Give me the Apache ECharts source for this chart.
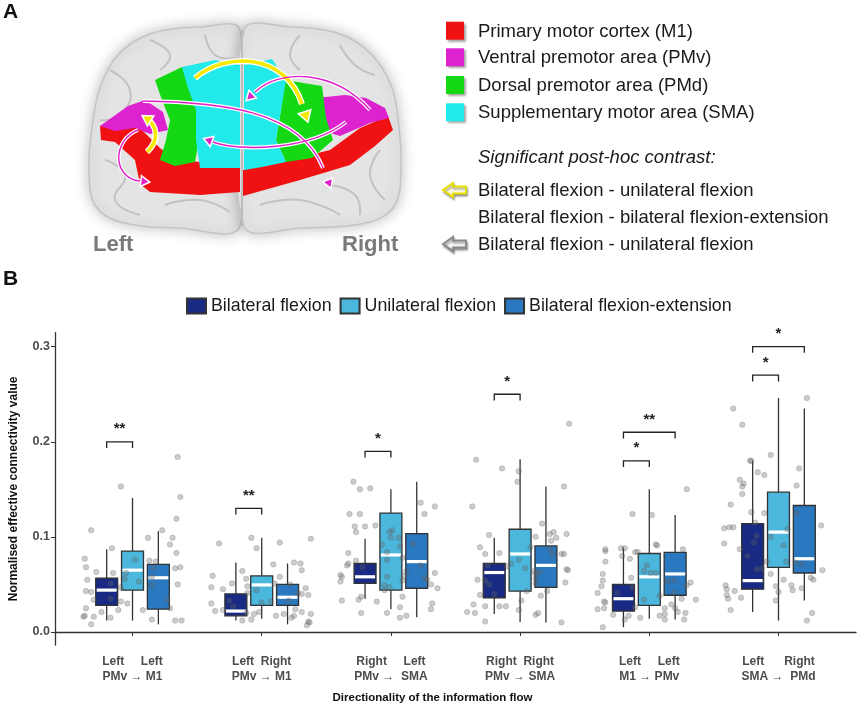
<!DOCTYPE html>
<html>
<head>
<meta charset="utf-8">
<script src="https://cdn.jsdelivr.net/npm/echarts@6.0.0/dist/echarts.min.js"></script>
<style>
html,body{margin:0;padding:0;background:#fff}
#main{width:858px;height:706px}
</style>
</head>
<body>
<div id="main"></div>
<script>
// ---- data ----
var categories = [1, 2, 3, 4, 5, 6];
var tickLabels = [
	'Left     Left\nPMv → M1',
	'Left  Right\nPMv → M1',
	'Right     Left\nPMv →  SMA',
	'Right  Right\nPMv → SMA',
	'Left     Left\nM1 → PMv',
	'Left      Right\nSMA →  PMd'
];
var conditions = ['Bilateral flexion', 'Unilateral flexion', 'Bilateral flexion-extension'];
var condColors = ['#182a84', '#4bb7dc', '#2a78bf'];
var boxOffsets = [-0.2, 0, 0.2];

// [min, q1, median, q3, max] per category
var bilateralFlexion = [
	[0.012, 0.028, 0.044, 0.0565, 0.087],
	[0.012, 0.017, 0.022, 0.040, 0.073],
	[0.035, 0.051, 0.058, 0.072, 0.098],
	[0.019, 0.036, 0.0625, 0.072, 0.099],
	[0.005, 0.022, 0.035, 0.050, 0.089],
	[0.021, 0.045, 0.054, 0.114, 0.180]
];
var unilateralFlexion = [
	[0.012, 0.044, 0.065, 0.085, 0.141],
	[0.014, 0.028, 0.0495, 0.059, 0.099],
	[0.024, 0.044, 0.081, 0.125, 0.150],
	[0.0105, 0.043, 0.082, 0.108, 0.1815],
	[0.014, 0.028, 0.058, 0.0825, 0.150],
	[0.012, 0.068, 0.105, 0.147, 0.246]
];
var bilateralFlexExt = [
	[0.008, 0.024, 0.057, 0.071, 0.106],
	[0.008, 0.028, 0.0365, 0.050, 0.072],
	[0.0155, 0.046, 0.074, 0.1035, 0.158],
	[0.010, 0.047, 0.070, 0.0905, 0.153],
	[0.013, 0.0386, 0.061, 0.0836, 0.123],
	[0.033, 0.062, 0.077, 0.133, 0.235]
];

// jittered subject values: [offset from category centre, value]
var points1 = [[-0.32,0.107],[-0.09,0.153],[0.35,0.184],[0.37,0.142],[0.34,0.119],[0.23,0.107],[0.12,0.099],[0.31,0.099],[0.29,0.092],[-0.16,0.088],[-0.37,0.077],[0.34,0.083],[0.02,0.076],[-0.36,0.068],[0.13,0.075],[0.18,0.074],[0.33,0.067],[0.37,0.068],[-0.28,0.063],[-0.05,0.062],[-0.15,0.062],[-0.35,0.055],[-0.06,0.056],[0.05,0.053],[0.15,0.049],[0.35,0.050],[-0.17,0.051],[-0.36,0.043],[-0.32,0.042],[-0.09,0.047],[-0.30,0.034],[-0.09,0.032],[-0.17,0.035],[0.27,0.034],[-0.36,0.025],[-0.11,0.023],[-0.04,0.030],[-0.24,0.021],[0.08,0.023],[0.29,0.025],[-0.37,0.017],[-0.38,0.016],[-0.30,0.016],[-0.17,0.015],[0.15,0.013],[0.33,0.012],[0.38,0.012],[-0.32,0.008],[0.15,0.058],[0.16,0.067]];
var points2 = [[-0.33,0.093],[-0.08,0.099],[-0.04,0.088],[0.14,0.094],[0.38,0.098],[0.09,0.071],[0.25,0.073],[0.30,0.072],[0.31,0.065],[-0.38,0.059],[-0.15,0.064],[-0.12,0.056],[0.14,0.058],[-0.39,0.047],[-0.30,0.045],[-0.23,0.051],[-0.11,0.048],[-0.04,0.044],[0.10,0.051],[0.22,0.050],[0.34,0.046],[0.28,0.041],[0.31,0.040],[0.36,0.039],[-0.11,0.041],[-0.25,0.033],[0.00,0.031],[-0.39,0.030],[-0.22,0.027],[-0.36,0.022],[-0.30,0.023],[-0.12,0.020],[-0.06,0.019],[-0.02,0.021],[0.17,0.019],[0.26,0.024],[0.31,0.021],[0.38,0.019],[0.11,0.017],[0.23,0.015],[0.25,0.017],[-0.15,0.012],[-0.08,0.013],[0.36,0.011],[0.37,0.010],[0.35,0.007],[0.07,0.032],[0.21,0.033]];
var points3 = [[-0.29,0.158],[-0.24,0.150],[-0.16,0.151],[0.23,0.136],[0.34,0.132],[-0.32,0.124],[-0.24,0.124],[0.26,0.124],[-0.28,0.111],[-0.20,0.111],[-0.12,0.112],[-0.27,0.105],[-0.01,0.105],[0.01,0.107],[0.00,0.099],[0.06,0.099],[-0.07,0.092],[0.07,0.090],[0.17,0.093],[-0.33,0.083],[-0.27,0.075],[-0.03,0.084],[-0.03,0.076],[0.09,0.078],[-0.33,0.072],[-0.34,0.070],[-0.22,0.068],[0.23,0.070],[0.12,0.064],[-0.39,0.060],[-0.38,0.058],[-0.03,0.058],[0.10,0.059],[0.34,0.062],[-0.39,0.053],[0.09,0.054],[0.26,0.057],[0.28,0.055],[0.31,0.050],[0.36,0.046],[-0.05,0.049],[-0.01,0.047],[-0.23,0.037],[-0.25,0.034],[0.09,0.037],[-0.38,0.033],[-0.11,0.032],[0.32,0.030],[0.07,0.026],[0.31,0.024],[-0.23,0.020],[-0.03,0.020],[0.07,0.015],[0.12,0.017],[-0.05,0.044]];
var points4 = [[0.38,0.219],[-0.34,0.181],[-0.14,0.172],[-0.01,0.169],[-0.02,0.158],[0.34,0.153],[-0.37,0.132],[0.17,0.114],[-0.24,0.102],[0.12,0.100],[0.23,0.103],[0.26,0.105],[0.28,0.099],[0.24,0.096],[0.36,0.103],[-0.31,0.089],[0.08,0.089],[0.23,0.087],[-0.27,0.082],[-0.16,0.083],[0.25,0.082],[0.32,0.082],[0.34,0.082],[-0.01,0.076],[-0.25,0.070],[-0.07,0.072],[-0.10,0.069],[0.04,0.067],[0.36,0.066],[0.37,0.065],[0.11,0.064],[0.15,0.063],[0.12,0.061],[-0.33,0.055],[-0.27,0.054],[-0.24,0.050],[0.12,0.056],[0.12,0.051],[0.35,0.052],[0.21,0.043],[0.05,0.043],[-0.31,0.039],[-0.20,0.040],[0.16,0.038],[0.01,0.033],[-0.36,0.029],[-0.27,0.027],[-0.16,0.027],[-0.11,0.027],[-0.41,0.021],[-0.35,0.020],[-0.01,0.023],[0.12,0.018],[0.14,0.020],[-0.27,0.011],[0.32,0.010]];
var points5 = [[0.29,0.150],[-0.13,0.124],[0.02,0.123],[-0.34,0.087],[-0.34,0.085],[-0.22,0.088],[-0.19,0.088],[-0.21,0.080],[-0.15,0.077],[-0.11,0.084],[-0.09,0.084],[0.05,0.092],[0.06,0.091],[0.26,0.087],[-0.34,0.074],[-0.02,0.070],[-0.04,0.064],[0.01,0.062],[0.05,0.062],[-0.36,0.061],[-0.14,0.057],[-0.36,0.054],[0.14,0.053],[0.19,0.054],[0.32,0.052],[0.29,0.049],[-0.37,0.048],[-0.13,0.047],[-0.40,0.041],[-0.25,0.041],[0.19,0.042],[0.08,0.038],[0.25,0.035],[0.36,0.034],[-0.35,0.032],[-0.34,0.031],[-0.04,0.034],[-0.11,0.026],[0.17,0.029],[-0.40,0.024],[-0.35,0.025],[0.12,0.025],[0.20,0.025],[0.22,0.021],[0.28,0.020],[-0.28,0.018],[-0.16,0.017],[0.08,0.017],[0.12,0.019],[-0.07,0.015],[0.12,0.013],[-0.19,0.013],[0.27,0.013],[-0.36,0.005]];
var points6 = [[0.22,0.246],[-0.35,0.235],[-0.28,0.218],[-0.06,0.186],[-0.22,0.180],[-0.21,0.180],[0.16,0.172],[-0.16,0.168],[-0.11,0.165],[-0.30,0.160],[-0.27,0.156],[-0.28,0.153],[0.14,0.154],[-0.28,0.145],[-0.37,0.134],[-0.21,0.126],[-0.11,0.125],[0.14,0.125],[-0.18,0.115],[0.33,0.112],[-0.42,0.109],[-0.38,0.110],[-0.35,0.110],[0.07,0.108],[-0.17,0.101],[-0.06,0.100],[-0.42,0.093],[-0.19,0.094],[0.04,0.091],[-0.30,0.087],[-0.24,0.080],[-0.09,0.074],[0.06,0.074],[0.13,0.073],[0.18,0.071],[-0.17,0.066],[-0.13,0.067],[0.34,0.065],[-0.06,0.061],[0.25,0.057],[0.27,0.055],[0.04,0.055],[-0.41,0.049],[0.10,0.049],[-0.40,0.045],[-0.02,0.048],[0.11,0.044],[0.18,0.046],[-0.34,0.043],[0.00,0.042],[-0.40,0.039],[-0.39,0.035],[-0.29,0.036],[-0.02,0.033],[-0.37,0.023],[0.26,0.020],[0.22,0.012]];

// significance brackets: [category, from box, to box, height, stars]
var brackets = [[1,0,1,0.200,'**'],[2,0,1,0.130,'**'],[3,0,1,0.190,'*'],[4,0,1,0.250,'*'],[5,0,1,0.180,'*'],[5,0,2,0.210,'**'],[6,0,1,0.270,'*'],[6,0,2,0.300,'*']];

var yTicks = [0, 0.1, 0.2, 0.3];

// panel A texts
var regionNames = ['Primary motor cortex (M1)', 'Ventral premotor area (PMv)', 'Dorsal premotor area (PMd)', 'Supplementary motor area (SMA)'];
var regionColors = ['#f01212', '#dd22d0', '#14d814', '#22eaea'];
var contrastTitle = 'Significant post-hoc contrast:';
var contrastNames = ['Bilateral flexion - unilateral flexion', 'Bilateral flexion - bilateral flexion-extension', 'Bilateral flexion - unilateral flexion'];

// ---- build ----
var myChart = echarts.init(document.getElementById('main'));
var BOX_W = 0.17;
var boxSets = [bilateralFlexion, unilateralFlexion, bilateralFlexExt];
var pointSets = [points1, points2, points3, points4, points5, points6];

function boxData(set, k) {
	return set.map(function (b, i) {
		return [categories[i] + boxOffsets[k]].concat(b);
	});
}

function renderBox(params, api) {
	var x = api.value(0);
	var lo = api.coord([x, api.value(1)]);
	var q1 = api.coord([x, api.value(2)]);
	var md = api.coord([x, api.value(3)]);
	var q3 = api.coord([x, api.value(4)]);
	var hi = api.coord([x, api.value(5)]);
	var half = api.size([BOX_W, 0])[0] / 2;
	var fill = api.visual('color');
	return {
		type : 'group',
		children : [ {
			type : 'line',
			shape : { x1 : hi[0], y1 : hi[1], x2 : q3[0], y2 : q3[1] },
			style : { stroke : '#333', lineWidth : 1.3 }
		}, {
			type : 'line',
			shape : { x1 : q1[0], y1 : q1[1], x2 : lo[0], y2 : lo[1] },
			style : { stroke : '#333', lineWidth : 1.3 }
		}, {
			type : 'rect',
			shape : { x : q3[0] - half, y : q3[1], width : half * 2, height : q1[1] - q3[1] },
			style : { fill : fill, stroke : '#333', lineWidth : 1.3 }
		}, {
			type : 'line',
			shape : { x1 : md[0] - half + 1, y1 : md[1], x2 : md[0] + half - 1, y2 : md[1] },
			style : { stroke : '#fff', lineWidth : 3.2 }
		} ]
	};
}

function renderBracket(params, api) {
	var x1 = api.value(0), x2 = api.value(1), y = api.value(2);
	var a = api.coord([x1, y]);
	var b = api.coord([x2, y]);
	var drop = api.coord([x1, y - 0.0065])[1];
	return {
		type : 'group',
		children : [ {
			type : 'polyline',
			shape : { points : [[a[0], drop], [a[0], a[1]], [b[0], b[1]], [b[0], drop]] },
			style : { stroke : '#222', lineWidth : 1.3, fill : null }
		}, {
			type : 'text',
			x : (a[0] + b[0]) / 2,
			y : a[1] - 5,
			style : {
				text : brackets[params.dataIndex][4],
				fill : '#222',
				font : 'bold 15px "Liberation Sans", Arial',
				align : 'center',
				verticalAlign : 'bottom'
			}
		} ]
	};
}

var series = [];
conditions.forEach(function (name, k) {
	series.push({
		name : name,
		type : 'custom',
		renderItem : renderBox,
		itemStyle : { color : condColors[k], borderColor : '#333', borderWidth : 1 },
		encode : { x : 0, y : [1, 2, 3, 4, 5] },
		data : boxData(boxSets[k], k),
		z : 2
	});
});

var scatterData = [];
pointSets.forEach(function (pts, i) {
	pts.forEach(function (p) {
		scatterData.push([categories[i] + p[0], p[1]]);
	});
});
series.push({
	name : 'subjects',
	type : 'scatter',
	symbolSize : 5.5,
	itemStyle : { color : 'rgba(105,105,105,0.42)', borderColor : 'rgba(80,80,80,0.45)', borderWidth : 0.6 },
	data : scatterData,
	z : 4,
	silent : true
});

series.push({
	name : 'brackets',
	type : 'custom',
	renderItem : renderBracket,
	encode : { x : [0, 1], y : 2 },
	data : brackets.map(function (b) {
		return [b[0] + boxOffsets[b[1]], b[0] + boxOffsets[b[2]], b[3]];
	}),
	z : 5,
	silent : true
});

// ---- panel A drawing ----
function poly(points, fill, stroke, z) {
	return { type : 'polygon', shape : { points : points }, style : { fill : fill, stroke : stroke || null, lineWidth : 1 }, z : z || 1 };
}
function curve(p, color, width, z) {
	return {
		type : 'bezierCurve',
		shape : { x1 : p[0], y1 : p[1], cpx1 : p[2], cpy1 : p[3], cpx2 : p[4], cpy2 : p[5], x2 : p[6], y2 : p[7] },
		style : { stroke : color, lineWidth : width, fill : null },
		z : z
	};
}
function head(ex, ey, cx, cy, s, fill, stroke, z) {
	var a = Math.atan2(ey - cy, ex - cx);
	var bx = ex - s * Math.cos(a), by = ey - s * Math.sin(a);
	var w = s * 0.6;
	return {
		type : 'polygon',
		shape : { points : [[ex, ey], [bx + w * Math.sin(a), by - w * Math.cos(a)], [bx - w * Math.sin(a), by + w * Math.cos(a)]] },
		style : { fill : fill, stroke : stroke, lineWidth : 1.5 },
		z : z
	};
}
function arrowPath(p, color, outline, width, size) {
	return [
		curve(p, outline, width + 2.5, 6),
		curve(p, color, width, 7),
		head(p[6] + (p[6] - p[4]) * 0.35, p[7] + (p[7] - p[5]) * 0.35, p[4], p[5], size, color, outline, 8)
	];
}

var graphics = [];
graphics.push({ type : 'text', x : 3, y : 2, style : { text : 'A', font : 'bold 21px "Liberation Sans", Arial', fill : '#111' } });
graphics.push({ type : 'text', x : 3, y : 269, style : { text : 'B', font : 'bold 21px "Liberation Sans", Arial', fill : '#111' } });

// hemispheres
graphics.push({
	type : 'polygon',
	shape : { points : [[240,30],[200,27],[150,34],[118,55],[100,88],[92,128],[89,170],[95,205],[120,222],[180,228],[240,226]], smooth : 0.35 },
	style : { fill : '#e4e4e4', stroke : '#c4c4c4', lineWidth : 1.5, shadowBlur : 14, shadowColor : 'rgba(0,0,0,0.25)' },
	z : 1
});
graphics.push({
	type : 'polygon',
	shape : { points : [[244,30],[290,27],[340,34],[372,55],[392,88],[399,128],[401,170],[395,205],[370,222],[300,228],[244,226]], smooth : 0.35 },
	style : { fill : '#e4e4e4', stroke : '#c4c4c4', lineWidth : 1.5, shadowBlur : 14, shadowColor : 'rgba(0,0,0,0.25)' },
	z : 1
});
// gyri texture
[[[110,70],[130,90],[120,115],[100,120]],[[150,40],[170,55],[160,70]],[[205,35],[215,55],[235,58]],[[105,160],[125,175],[115,200],[140,215]],[[165,205],[200,200],[230,212]],[[300,35],[290,55],[300,70]],[[340,45],[355,65],[375,75]],[[380,150],[370,175],[385,200]],[[260,205],[300,200],[340,215]],[[330,185],[355,195],[360,215]]].forEach(function (pts) {
	graphics.push({ type : 'polyline', shape : { points : pts, smooth : 0.5 }, style : { stroke : '#c2c2c2', lineWidth : 2, fill : null }, z : 2 });
});
graphics.push({ type : 'line', shape : { x1 : 242, y1 : 30, x2 : 242, y2 : 226 }, style : { stroke : '#bdbdbd', lineWidth : 2 }, z : 2 });

// coloured areas
graphics.push(poly([[100,126],[118,122],[140,128],[160,148],[175,160],[240,165],[240,192],[200,195],[150,192],[140,184],[135,160],[115,142],[101,140]], regionColors[0], null, 3));
graphics.push(poly([[243,170],[290,160],[330,150],[360,128],[388,116],[393,130],[375,146],[350,165],[300,180],[243,196]], regionColors[0], null, 3));
graphics.push(poly([[100,126],[128,106],[145,100],[163,112],[168,130],[150,134],[135,128],[115,131]], regionColors[1], null, 4));
graphics.push(poly([[316,98],[345,95],[366,98],[385,108],[389,118],[370,123],[340,136],[321,130]], regionColors[1], null, 4));
graphics.push(poly([[155,80],[182,67],[190,76],[195,100],[199,115],[199,140],[195,162],[175,166],[160,160],[166,140],[170,120],[162,100]], regionColors[2], null, 4));
graphics.push(poly([[285,80],[322,86],[326,118],[333,140],[312,158],[286,162],[276,140],[281,110]], regionColors[2], null, 4));
graphics.push(poly([[182,67],[215,60],[240,65],[240,168],[200,168],[196,140],[196,110],[187,85]], regionColors[3], null, 4));
graphics.push(poly([[244,65],[272,59],[286,80],[281,110],[276,140],[286,162],[262,167],[244,170]], regionColors[3], null, 4));

// connection arrows
graphics = graphics.concat(arrowPath([195,78,225,52,285,52,302,104], '#f5e900', '#fff', 3.5, 11));
graphics = graphics.concat(arrowPath([147,152,160,140,157,125,146,118], '#f5e900', '#fff', 3.5, 10));
graphics = graphics.concat(arrowPath([143,101,220,102,300,110,323,168], '#e020c8', '#fff', 1.4, 9));
graphics = graphics.concat(arrowPath([370,110,335,70,280,68,255,92], '#e020c8', '#fff', 1.4, 9));
graphics = graphics.concat(arrowPath([346,122,310,150,240,152,213,142], '#e020c8', '#fff', 1.4, 9));
graphics = graphics.concat(arrowPath([138,130,112,140,112,178,140,181], '#e020c8', '#fff', 1.4, 9));

graphics.push({ type : 'text', x : 93, y : 234, style : { text : 'Left', font : 'bold 22px "Liberation Sans", Arial', fill : '#7a7a7a' }, z : 9 });
graphics.push({ type : 'text', x : 342, y : 234, style : { text : 'Right', font : 'bold 22px "Liberation Sans", Arial', fill : '#7a7a7a' }, z : 9 });

// region legend
var legendFont = '18.5px "Liberation Sans", Arial';
regionNames.forEach(function (name, i) {
	var cy = [30.7, 57.3, 85, 112.3][i];
	graphics.push({
		type : 'rect',
		shape : { x : 446, y : cy - 9, width : 18, height : 18 },
		style : { fill : regionColors[i], shadowBlur : 2, shadowOffsetX : 2, shadowOffsetY : 2, shadowColor : 'rgba(0,0,0,0.35)' },
		z : 3
	});
	graphics.push({ type : 'text', x : 478, y : cy + 1, style : { text : name, font : legendFont, fill : '#1a1a1a', verticalAlign : 'middle' }, z : 3 });
});
graphics.push({ type : 'text', x : 478, y : 158, style : { text : contrastTitle, font : 'italic ' + legendFont, fill : '#1a1a1a', verticalAlign : 'middle' }, z : 3 });
contrastNames.forEach(function (name, i) {
	var cy = [190, 216.7, 244][i];
	graphics.push({ type : 'text', x : 478, y : cy + 1, style : { text : name, font : legendFont, fill : '#1a1a1a', verticalAlign : 'middle' }, z : 3 });
});
[[190, '#e8e000', '#fffbe0'], [244, '#8a8a8a', '#f6f6f6']].forEach(function (a) {
	var y = a[0];
	graphics.push({
		type : 'polygon',
		shape : { points : [[443,y],[453,y-7],[453,y-3.5],[466,y-3.5],[466,y+3.5],[453,y+3.5],[453,y+7]] },
		style : { fill : a[2], stroke : a[1], lineWidth : 2, shadowBlur : 2, shadowOffsetX : 1, shadowOffsetY : 2, shadowColor : 'rgba(0,0,0,0.35)' },
		z : 3
	});
});

var labelFont = '"Liberation Sans Narrow", "Liberation Sans", Arial';

option = {
	animation : false,
	backgroundColor : '#fff',
	legend : {
		top : 292,
		left : 181,
		itemWidth : 19,
		itemHeight : 15,
		itemGap : 8,
		textStyle : { fontSize : 17.8, color : '#1a1a1a', fontFamily : '"Liberation Sans", Arial' },
		data : conditions.map(function (n) { return { name : n, icon : 'rect' }; })
	},
	grid : { left : 53.5, right : 2, top : 332.7, bottom : 61 },
	xAxis : {
		type : 'value',
		min : 0.4,
		max : 6.6,
		name : 'Directionality of the information flow',
		nameLocation : 'middle',
		nameGap : 47,
		nameTextStyle : { fontFamily : labelFont, fontWeight : 'bold', fontSize : 11.5, color : '#111', padding : [0, 46, 0, 0] },
		axisLine : { lineStyle : { color : '#333', width : 1.3 } },
		axisTick : { customValues : categories, length : 4, lineStyle : { color : '#333' } },
		axisLabel : {
			customValues : categories,
			formatter : function (v) { return tickLabels[Math.round(v) - 1]; },
			fontFamily : labelFont,
			fontWeight : 'bold',
			fontSize : 12,
			lineHeight : 15,
			color : '#4d4d4d',
			margin : 9
		},
		splitLine : { show : false }
	},
	yAxis : {
		type : 'value',
		min : -0.0137,
		max : 0.3147,
		name : 'Normalised effective connectivity value',
		nameLocation : 'middle',
		nameGap : 35,
		nameTextStyle : { fontFamily : labelFont, fontWeight : 'bold', fontSize : 12, color : '#111' },
		axisLine : { show : true, lineStyle : { color : '#333', width : 1.3 } },
		axisTick : { show : true, customValues : yTicks, length : 4, lineStyle : { color : '#333' } },
		axisLabel : {
			customValues : yTicks,
			formatter : function (v) { return v.toFixed(1); },
			fontFamily : labelFont,
			fontWeight : 'bold',
			fontSize : 12.5,
			color : '#4d4d4d',
			margin : 5
		},
		splitLine : { show : false }
	},
	graphic : graphics,
	series : series
};
myChart.setOption(option);
</script>
</body>
</html>
